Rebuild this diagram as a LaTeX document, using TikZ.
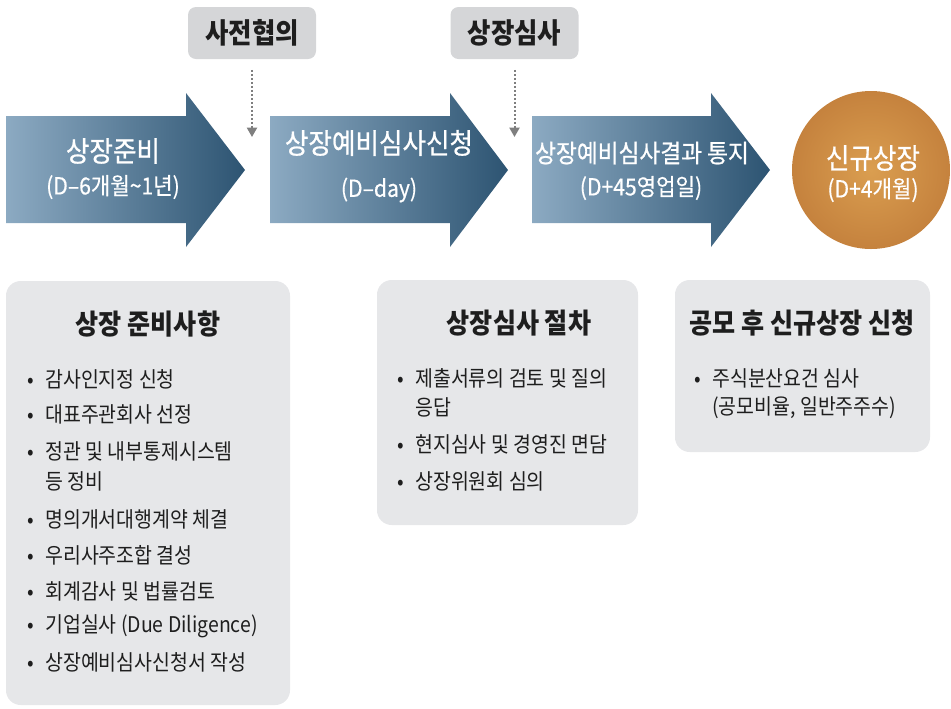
\documentclass[tikz,border=0pt]{standalone}
\usepackage{fontspec}
\setmainfont{Noto Sans CJK KR}[FakeStretch=0.9]
\usetikzlibrary{arrows.meta}

\definecolor{shaftlight}{HTML}{8CAAC2}
\definecolor{shaftdark}{HTML}{2D5472}
\definecolor{amberlight}{HTML}{DA9E50}
\definecolor{amberdark}{HTML}{B0662B}
\definecolor{panelgray}{HTML}{E6E7E9}
\definecolor{tabgray}{HTML}{D5D6D8}
\definecolor{ink}{HTML}{1E1E1E}
\definecolor{hintgray}{HTML}{7F7F7F}

\pgfdeclareradialshading{amberglow}{\pgfpoint{0bp}{0bp}}{color(0bp)=(amberlight); color(50bp)=(amberdark)}

\newcommand\stagefont{\fontsize{21.3pt}{24pt}\selectfont\addfontfeature{FakeBold=0.7}}
\newcommand\smallstagefont{\fontsize{18.9pt}{22pt}\selectfont\addfontfeature{FakeBold=0.7}}
\newcommand\datefont{\fontsize{17.6pt}{20pt}\selectfont\addfontfeature{FakeBold=0.5}}
\newcommand\tabfont{\fontsize{21.2pt}{24pt}\selectfont\bfseries}
\newcommand\headfont{\fontsize{20.9pt}{24pt}\selectfont\bfseries}
\newcommand\itemfont{\fontsize{16.2pt}{19pt}\selectfont}
\newcommand\bul{\llap{•\hspace{8.5pt}}}

\begin{document}
\begin{tikzpicture}[x=0.75pt, y=-0.75pt,
    shaft/.style={left color=shaftlight, right color=shaftdark},
    stage/.style={font=\stagefont, text=white, inner sep=0pt},
    stagedate/.style={font=\datefont, text=white, inner sep=0pt},
    tab/.style={fill=tabgray, rounded corners=6pt, minimum width=96pt, minimum height=39pt, inner sep=0pt, font=\tabfont, text=ink},
    hint/.style={hintgray, line width=1.5pt, dash pattern=on 1.5pt off 1.5pt, -{Triangle[width=7.5pt,length=7pt]}, shorten <=8pt},
    panel/.style={fill=panelgray, rounded corners=11pt, inner sep=0pt},
    head/.style={font=\headfont, text=ink, inner sep=0pt},
    item/.style={anchor=west, font=\itemfont, text=ink, inner sep=0pt}
]
\useasboundingbox (0,0) rectangle (951,708);

% flow arrows
\shade[shaft] (6,116) -- (186,116) -- (186,93) -- (245,170) -- (186,247) -- (186,223) -- (6,223) -- cycle;
\shade[shaft] (270,116) -- (450,116) -- (450,93) -- (508,170) -- (450,247) -- (450,223) -- (270,223) -- cycle;
\shade[shaft] (532,116) -- (711,116) -- (711,93) -- (770,170) -- (711,247) -- (711,223) -- (532,223) -- cycle;
\node[circle, shade, shading=amberglow, minimum size=118.5pt, inner sep=0pt] (goal) at (871,170) {};

\node[stage] (prep) at (113,151) {상장준비};
\node[stagedate] (prep-date) at (113,187) {(D–6개월\textasciitilde 1년)};
\node[stage] (filing) at (379,143) {상장예비심사신청};
\node[stagedate] (filing-date) at (379,190) {(D–day)};
\node[stage, font=\smallstagefont] (result) at (642,153) {상장예비심사결과 통지};
\node[stagedate] (result-date) at (641,188) {(D+45영업일)};
\node[stage] (listing) at (873,158) {신규상장};
\node[stagedate] (listing-date) at (873,190) {(D+4개월)};

% milestones above
\node[tab] (consult) at (252,33) {사전협의};
\node[tab] (review) at (514.5,33) {상장심사};
\coordinate (consult-in) at (252,137);
\coordinate (review-in) at (514.5,137);
\draw[hint] (consult) -- (consult-in);
\draw[hint] (review) -- (review-in);

% detail panels
\node[panel, minimum width=213pt, minimum height=318pt] (prepbox) at (148,493) {};
\node[head] (prep-head) at (148,324) {상장 준비사항};
\node[item] (p1) at (45,379) {\bul 감사인지정 신청};
\node[item] (p2) at (45,414) {\bul 대표주관회사 선정};
\node[item] (p3) at (45,451) {\bul 정관 및 내부통제시스템};
\node[item] (p3b) at (45,481) {등 정비};
\node[item] (p4) at (45,519) {\bul 명의개서대행계약 체결};
\node[item] (p5) at (45,555) {\bul 우리사주조합 결성};
\node[item] (p6) at (45,591) {\bul 회계감사 및 법률검토};
\node[item] (p7) at (45,626) {\bul 기업실사 (Due Diligence)};
\node[item] (p8) at (45,662) {\bul 상장예비심사신청서 작성};

\node[panel, minimum width=195.75pt, minimum height=183.75pt] (reviewbox) at (507.5,402.5) {};
\node[head] (review-head) at (519,323) {상장심사 절차};
\node[item] (r1) at (415,378) {\bul 제출서류의 검토 및 질의};
\node[item] (r1b) at (415,407) {응답};
\node[item] (r2) at (415,444) {\bul 현지심사 및 경영진 면담};
\node[item] (r3) at (415,481) {\bul 상장위원회 심의};

\node[panel, minimum width=191.25pt, minimum height=129pt] (listbox) at (802.5,366) {};
\node[head] (list-head) at (802,323) {공모 후 신규상장 신청};
\node[item] (l1) at (712,378) {\bul 주식분산요건 심사};
\node[item] (l1b) at (712,408) {(공모비율, 일반주주수)};
\end{tikzpicture}
\end{document}
